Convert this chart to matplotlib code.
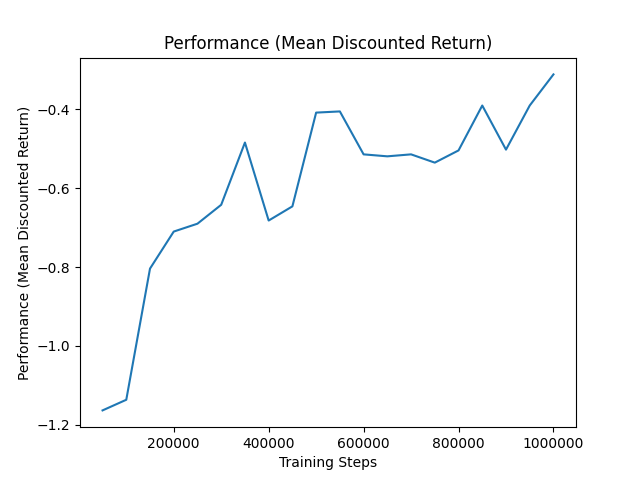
import matplotlib
matplotlib.use('Agg')
import matplotlib.pyplot as plt

# data
steps = [50000, 100000, 150000, 200000, 250000, 300000, 350000, 400000, 450000, 500000,
         550000, 600000, 650000, 700000, 750000, 800000, 850000, 900000, 950000, 1000000]
returns = [-1.164, -1.137, -0.804, -0.710, -0.690, -0.642, -0.484, -0.682, -0.646, -0.408,
           -0.405, -0.514, -0.519, -0.514, -0.535, -0.504, -0.390, -0.502, -0.390, -0.311]

fig, ax = plt.subplots(figsize=(6.4, 4.8), dpi=100)
ax.plot(steps, returns, color='#1f77b4')
ax.ticklabel_format(axis='x', style='plain', useOffset=False)
ax.set_xticks([200000, 400000, 600000, 800000, 1000000])
ax.set_title('Performance (Mean Discounted Return)')
ax.set_xlabel('Training Steps')
ax.set_ylabel('Performance (Mean Discounted Return)')
fig.savefig('out.png')
